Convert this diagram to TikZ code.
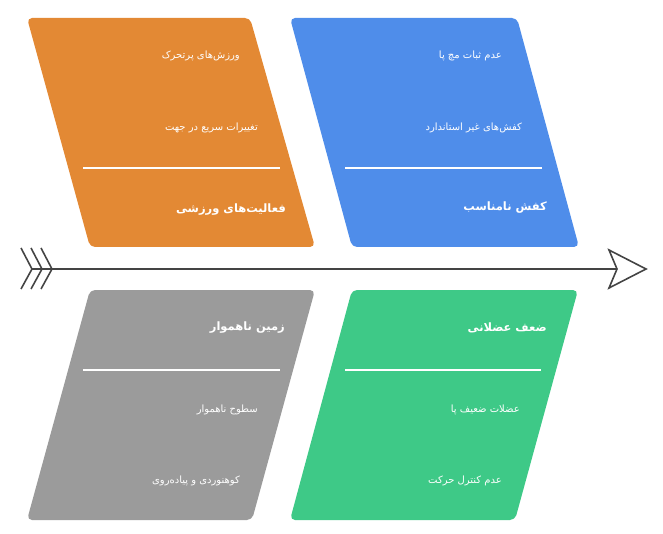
\documentclass[tikz,border=0pt]{standalone}
\usepackage{fontspec}
\usepackage{tikz}
\TeXXeTstate=1
\newfontfamily\farsifont[Script=Arabic]{DejaVu Sans}
\definecolor{sportorange}{RGB}{227,137,52}
\definecolor{shoeblue}{RGB}{79,141,234}
\definecolor{groundgray}{RGB}{155,155,155}
\definecolor{musclegreen}{RGB}{62,201,135}
\definecolor{spinegray}{RGB}{68,68,68}

\begin{document}
\begin{tikzpicture}[
    x = 1pt, y = -1pt,
    cause/.style = {rounded corners = 5pt},
    item/.style = {text = white, anchor = east, inner sep = 0pt,
      font = \farsifont\fontsize{10}{12}\selectfont},
    title/.style = {text = white, anchor = east, inner sep = 0pt,
      font = \farsifont\bfseries\fontsize{11.5}{13}\selectfont},
    divider/.style = {white, line width = 1.3pt},
    spine/.style = {spinegray, line width = 1.6pt, line join = miter}
    ]
    \useasboundingbox (0, 0) rectangle (663, 534);

    % the four cause boxes
    \fill [cause, sportorange] (27, 18) -- (250, 18) -- (315, 247) -- (90, 247) -- cycle;
    \fill [cause, shoeblue] (290, 18) -- (517, 18) -- (579, 247) -- (352, 247) -- cycle;
    \fill [cause, groundgray] (90, 290) -- (315, 290) -- (252, 520) -- (27, 520) -- cycle;
    \fill [cause, musclegreen] (352, 290) -- (578, 290) -- (515, 520) -- (290, 520) -- cycle;

    % dividers
    \draw [divider] (83, 168) -- (280, 168);
    \draw [divider] (345, 168) -- (542, 168);
    \draw [divider] (83, 370) -- (280, 370);
    \draw [divider] (345, 370) -- (541, 370);

    % sports
    \node at (240, 56) [item, name = sportA] {\beginR ورزش‌های پرتحرک\endR};
    \node at (258, 128) [item, name = sportB] {\beginR تغییرات سریع در جهت\endR};
    \node at (286, 210) [title, name = sport] {\beginR فعالیت‌های ورزشی\endR};

    % shoes
    \node at (502, 56) [item, name = shoeA] {\beginR عدم ثبات مچ پا\endR};
    \node at (522, 128) [item, name = shoeB] {\beginR کفش‌های غیر استاندارد\endR};
    \node at (547, 208) [title, name = shoe] {\beginR کفش نامناسب\endR};

    % ground
    \node at (285, 328) [title, name = ground] {\beginR زمین ناهموار\endR};
    \node at (258, 410) [item, name = groundA] {\beginR سطوح ناهموار\endR};
    \node at (240, 481) [item, name = groundB] {\beginR کوهنوردی و پیاده‌روی\endR};

    % muscles
    \node at (547, 328) [title, name = muscle] {\beginR ضعف عضلانی\endR};
    \node at (520, 410) [item, name = muscleA] {\beginR عضلات ضعیف پا\endR};
    \node at (502, 481) [item, name = muscleB] {\beginR عدم کنترل حرکت\endR};

    % spine with tail and head
    \coordinate (tail) at (32, 269);
    \coordinate (head) at (617, 269);
    \draw [spine] (tail) -- (head);
    \foreach \dx in {0, 10, 20}
      \draw [spine] (21 + \dx, 248) -- (32 + \dx, 269) -- (21 + \dx, 289);
    \draw [spine, fill = white] (head) -- (609, 250) -- (646, 269) -- (609, 288) -- cycle;

  \end{tikzpicture}
\end{document}
